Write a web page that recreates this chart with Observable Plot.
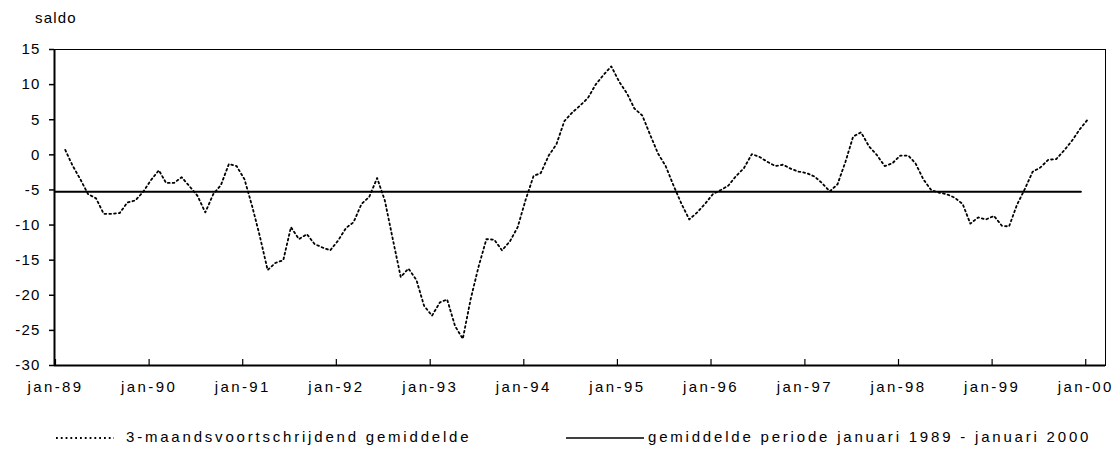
<!DOCTYPE html>
<html>
<head>
<meta charset="utf-8">
<script src="https://cdn.jsdelivr.net/npm/d3@7"></script>
<script src="https://cdn.jsdelivr.net/npm/@observablehq/plot@0.6"></script>
<style>
  html, body { margin: 0; padding: 0; background: #fff; }
  body { font-family: "Liberation Sans", Arial, sans-serif; color: #000; }
  #wrap { width: 1115px; height: 450px; overflow: hidden; position: relative; }
  #head { height: 30px; position: relative; }
  #saldo { position: absolute; left: 35px; top: 9px; font-size: 15px; letter-spacing: 1.2px; }
  #chart svg { display: block; }
  #chart g[aria-label="x-axis tick label"] { letter-spacing: 2.4px; }
  #chart g[aria-label="y-axis tick label"] { letter-spacing: 1.2px; }
  #legend { position: relative; height: 40px; font-size: 15px; letter-spacing: 2.8px; }
  #legend .t { position: absolute; top: 18px; white-space: nowrap; }
  #legend svg { position: absolute; top: 0; left: 0; }
</style>
</head>
<body>
<div id="wrap">
  <div id="head"><div id="saldo">saldo</div></div>
  <div id="chart"></div>
  <div id="legend"></div>
</div>
<script>
// ---- data (Feb 1989 .. Jan 2000, monthly) ----
const firstYear = 1989;
const firstMonth = 1; // February (0-based)
const saldo = [
  0.7, -1.5, -3.5, -5.6, -6.2, -8.4, -8.4, -8.3, -6.8, -6.5, -5.3,            // feb-89..dec-89
  -3.6, -2.2, -4.0, -4.0, -3.2, -4.5, -5.8, -8.2, -5.6, -4.3, -1.3, -1.6,     // 1990
  -3.5, -7.5, -11.5, -16.4, -15.4, -15.0, -10.3, -12.0, -11.3, -12.7, -13.2, -13.6, // 1991
  -12.2, -10.4, -9.6, -7.0, -6.0, -3.3, -6.5, -12.0, -17.4, -16.2, -17.8, -21.5,   // 1992
  -22.9, -21.0, -20.6, -24.4, -26.2, -20.5, -16.0, -12.0, -12.1, -13.6, -12.3, -10.3, // 1993
  -6.4, -3.0, -2.6, -0.1, 1.5, 4.8, 6.0, 7.0, 8.1, 10.0, 11.4, 12.6,          // 1994
  10.4, 8.7, 6.6, 5.6, 2.9, 0.2, -1.6, -4.4, -7.0, -9.2, -8.2, -7.0,          // 1995
  -5.6, -5.0, -4.4, -3.0, -1.9, 0.1, -0.3, -1.0, -1.6, -1.4, -2.0, -2.4,      // 1996
  -2.6, -3.1, -4.0, -5.2, -4.2, -1.0, 2.6, 3.2, 1.2, 0.0, -1.6, -1.2,         // 1997
  -0.1, -0.1, -1.2, -3.5, -5.0, -5.4, -5.6, -6.1, -7.0, -9.8, -8.9, -9.2,     // 1998
  -8.7, -10.1, -10.2, -7.1, -4.9, -2.4, -1.8, -0.7, -0.6, 0.6, 2.0, 3.6,      // 1999
  5.0                                                                          // jan-00
];
const meanValue = -5.25;
const meanPeriod = [new Date(Date.UTC(1989, 0, 3)), new Date(Date.UTC(1999, 11, 17))];
const yTicks = [-30, -25, -20, -15, -10, -5, 0, 5, 10, 15];
const tickYears = [1989, 1990, 1991, 1992, 1993, 1994, 1995, 1996, 1997, 1998, 1999, 2000];
const tickLabels = ["jan-89", "jan-90", "jan-91", "jan-92", "jan-93", "jan-94", "jan-95", "jan-96", "jan-97", "jan-98", "jan-99", "jan-00"];
const xDomain = [new Date(Date.UTC(1989, 0, 1)), new Date(Date.UTC(2000, 2, 22))];
const legendLabels = ["3-maandsvoortschrijdend gemiddelde", "gemiddelde periode januari 1989 - januari 2000"];

// ---- build tables ----
const series = saldo.map((v, i) => ({ date: new Date(Date.UTC(firstYear, firstMonth + i, 12)), value: v }));
const meanLine = meanPeriod.map(d => ({ date: d, value: meanValue }));
const tickDates = tickYears.map(y => new Date(Date.UTC(y, 0, 1)));
const labelOf = new Map(tickDates.map((d, i) => [+d, tickLabels[i]]));

const font = '"Liberation Sans", Arial, sans-serif';

const chart = Plot.plot({
  width: 1115,
  height: 380,
  marginTop: 19,
  marginBottom: 45,
  marginLeft: 54,
  marginRight: 10,
  style: { fontFamily: font, fontSize: "15px", background: "#fff", color: "#000" },
  x: { type: "utc", domain: xDomain },
  y: { domain: [-30, 15] },
  marks: [
    Plot.frame({ stroke: "#000", strokeWidth: 1 }),
    Plot.axisY(yTicks, { tickSize: 5, tickPadding: 9, label: null, tickFormat: d => String(d), strokeWidth: 1.5, fontSize: 15 }),
    Plot.axisX(tickDates, { tickSize: -6, tickPadding: 22, label: null, tickFormat: d => labelOf.get(+d), strokeWidth: 1.2, fontSize: 15, dx: 1 }),
    Plot.ruleX([xDomain[0]], { stroke: "#000", strokeWidth: 2 }),
    Plot.ruleY([-30], { stroke: "#000", strokeWidth: 2 }),
    Plot.line(meanLine, { x: "date", y: "value", stroke: "#000", strokeWidth: 2 }),
    Plot.line(series, { x: "date", y: "value", stroke: "#000", strokeWidth: 1.8, strokeDasharray: "1.8,3" })
  ]
});
document.getElementById("chart").appendChild(chart);

// ---- legend ----
const leg = document.getElementById("legend");
const ns = "http://www.w3.org/2000/svg";
const lsvg = document.createElementNS(ns, "svg");
lsvg.setAttribute("width", 1115); lsvg.setAttribute("height", 40);
function legLine(x1, x2, dash, w) {
  const l = document.createElementNS(ns, "line");
  l.setAttribute("x1", x1); l.setAttribute("x2", x2);
  l.setAttribute("y1", 28); l.setAttribute("y2", 28);
  l.setAttribute("stroke", "#000"); l.setAttribute("stroke-width", w);
  if (dash) l.setAttribute("stroke-dasharray", dash);
  lsvg.appendChild(l);
}
legLine(56, 114, "1.8,3", 1.8);
legLine(566, 644, null, 1.5);
leg.appendChild(lsvg);
[[126, legendLabels[0]], [648, legendLabels[1]]].forEach(([x, t]) => {
  const s = document.createElement("span");
  s.className = "t"; s.style.left = x + "px"; s.textContent = t;
  leg.appendChild(s);
});
</script>
</body>
</html>
